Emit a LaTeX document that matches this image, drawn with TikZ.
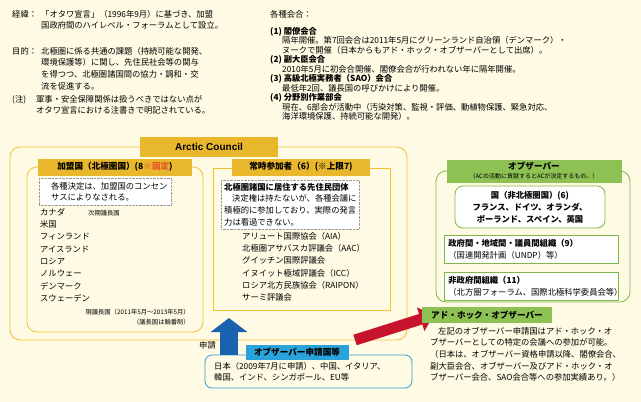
\documentclass[tikz,border=0pt]{standalone}
\usepackage{fontspec}
\setmainfont{Noto Sans CJK JP}
\setsansfont{Liberation Sans}
\usetikzlibrary{shapes,arrows,arrows.meta,positioning}
\definecolor{cream}{HTML}{FFFAE3}
\definecolor{gold}{HTML}{F2C12E}
\definecolor{goldfill}{HTML}{E9B72C}
\definecolor{skyline}{HTML}{2B9BD6}
\definecolor{skyfill}{HTML}{2AA3DA}
\definecolor{arrowblue}{HTML}{1763AE}
\definecolor{arrowred}{HTML}{C7142C}
\definecolor{leaf}{HTML}{7DB84A}
\definecolor{leaffill}{HTML}{8DC153}
\definecolor{remark}{HTML}{E8542A}
\tikzset{
  txt/.style={anchor=north west,inner sep=0pt,align=left,font=\fontsize{8.3}{11.6}\selectfont},
  small/.style={anchor=north west,inner sep=0pt,align=left,font=\fontsize{6.3}{9.5}\selectfont},
  tab/.style={inner sep=0pt,font=\fontsize{8.6}{10}\selectfont\bfseries},
  dotbox/.style={draw=gray!80,densely dotted,fill=white},
}
\begin{document}
\begin{tikzpicture}[x=1pt,y=-1pt,>=latex']
    \fill[cream] (0,0) rectangle (641,402);
    \useasboundingbox (0,0) rectangle (641,402);

    % notes, upper left
    \node (keii) [txt] at (12,10) {経緯：};
    \node (keiitxt) [txt] at (41,10) {「オタワ宣言」（1996年9月）に基づき、加盟\\国政府間のハイレベル・フォーラムとして設立。};
    \node (mokuteki) [txt] at (12,47) {目的：};
    \node (mokutekitxt) [txt] at (41,47) {北極圏に係る共通の課題（持続可能な開発、\\環境保護等）に関し、先住民社会等の関与\\を得つつ、北極圏諸国間の協力・調和・交\\流を促進する。};
    \node (chu) [txt] at (12,95) {(注)};
    \node (chutxt) [txt] at (36,95) {軍事・安全保障関係は扱うべきではない点が\\オタワ宣言における注書きで明記されている。};

    % meetings, upper right
    \node (kaigo) [txt] at (270,10) {各種会合：};
    \node (kaigotxt) [txt,font=\fontsize{8.3}{9.5}\selectfont] at (270,27) {\textbf{(1)\ 閣僚会合}\\\hspace{12pt}隔年開催。第7回会合は2011年5月にグリーンランド自治領（デンマーク）・\\\hspace{12pt}ヌークで開催（日本からもアド・ホック・オブザーバーとして出席）。\\\textbf{(2)\ 副大臣会合}\\\hspace{12pt}2010年5月に初会合開催、閣僚会合が行われない年に隔年開催。\\\textbf{(3)\ 高級北極実務者（SAO）会合}\\\hspace{12pt}最低年2回、議長国の呼びかけにより開催。\\\textbf{(4)\ 分野別作業部会}\\\hspace{12pt}現在、6部会が活動中（汚染対策、監視・評価、動植物保護、緊急対応、\\\hspace{12pt}海洋環境保護、持続可能な開発）。};

    % Arctic Council
    \draw[gold,thick,rounded corners=10pt] (10,147) rectangle (407,340);
    \node (ac) [tab,fill=goldfill,minimum width=138pt,minimum height=20pt,font=\fontsize{10}{12}\selectfont\bfseries\sffamily] at (209,147) {Arctic Council};

    % member states
    \draw[gold,thick,rounded corners=10pt] (27,167) rectangle (203,332);
    \node (member) [tab,fill=goldfill,minimum width=154pt,minimum height=17pt] at (115,167) {加盟国（北極圏国）(8\textcolor{remark}{※固定})};
    \node (consensus) [txt,dotbox,inner sep=4pt] at (39,178) {\hspace{8pt}各種決定は、加盟国のコンセン\\\hspace{8pt}サスによりなされる。};
    \node (members) [txt,font=\fontsize{8.3}{12.3}\selectfont] at (40,208) {カナダ\\米国\\フィンランド\\アイスランド\\ロシア\\ノルウェー\\デンマーク\\スウェーデン};
    \node (next) [small] at (88,210) {次期議長国};
    \node (chair) [small,align=right,anchor=north east] at (190,309) {現議長国（2011年5月～2013年5月）\\（議長国は輪番制）};

    % permanent participants
    \draw[gold,thick] (213,168) rectangle (390,310);
    \node (perm) [tab,fill=goldfill,minimum width=138pt,minimum height=17pt] at (301,167) {常時参加者（6）(※上限7)};
    \node (indig) [txt,dotbox,inner sep=3pt] at (221,180) {\textbf{北極圏諸国に居住する先住民団体}\\\hspace{8pt}決定権は持たないが、各種会議に\\積極的に参加しており、実際の発言\\力は看過できない。};
    \node (orgs) [txt,font=\fontsize{8.3}{12.3}\selectfont] at (242,232) {アリュート国際協会（AIA）\\北極圏アサバスカ評議会（AAC）\\グイッチン国際評議会\\イヌイット極域評議会（ICC）\\ロシア北方民族協会（RAIPON）\\サーミ評議会};

    % applicants
    \draw[skyline,thick,rounded corners=7pt] (205,355) rectangle (412,388);
    \node (appl) [tab,fill=skyfill,minimum width=103pt,minimum height=15pt] at (297,352) {オブザーバー申請国等};
    \node (appltxt) [txt] at (214,362) {日本（2009年7月に申請）、中国、イタリア、\\韓国、インド、シンガポール、EU等};
    \coordinate (up0) at (229,355);
    \coordinate (up1) at (229,318);
    \draw[arrowblue,line width=18pt,-{Triangle[length=14pt,width=36pt]}] (up0) -- (up1);
    \node (shinsei) [txt] at (199,341) {申請};
    \coordinate (red0) at (355,340);
    \coordinate (red1) at (434,315);
    \draw[arrowred,line width=11pt,-{Triangle[length=14pt,width=24pt]}] (red0) -- (red1);

    % observers
    \draw[leaf,thick,rounded corners=10pt] (436,171) rectangle (630,302);
    \node (obs) [tab,fill=leaffill,minimum width=175pt,minimum height=23pt,align=center] at (534,171) {オブザーバー\\[-1pt]{\fontsize{6}{7}\selectfont\mdseries（ACの活動に貢献するとACが決定するもの。）}};
    \node (nonarctic) [tab,draw=leaf,thick,fill=white,rounded corners=8pt,align=center,minimum width=150pt,minimum height=42pt,font=\fontsize{8.3}{12}\selectfont\bfseries] at (530,207) {国（非北極圏国）(6)\\フランス、ドイツ、オランダ、\\ポーランド、スペイン、英国};
    \node (igo) [txt,draw=leaf,thick,fill=white,inner sep=4pt,text width=166pt] at (444,235) {\textbf{政府間・地域間・議員間組織（9）}\\（国連開発計画（UNDP）等）};
    \node (ngo) [txt,draw=leaf,thick,fill=white,inner sep=4pt,text width=166pt] at (444,272) {\textbf{非政府間組織（11）}\\（北方圏フォーラム、国際北極科学委員会等）};

    % ad hoc observers
    \node (adhoc) [tab,fill=leaffill,minimum width=130pt,minimum height=16pt] at (487,315) {アド・ホック・オブザーバー};
    \node (adhoctxt) [txt] at (430,327) {\hspace{8pt}左記のオブザーバー申請国はアド・ホック・オ\\ブザーバーとしての特定の会議への参加が可能。\\（日本は、オブザーバー資格申請以降、閣僚会合、\\副大臣会合、オブザーバー及びアド・ホック・オ\\ブザーバー会合、SAO会合等への参加実績あり。）};
\end{tikzpicture}
\end{document}
